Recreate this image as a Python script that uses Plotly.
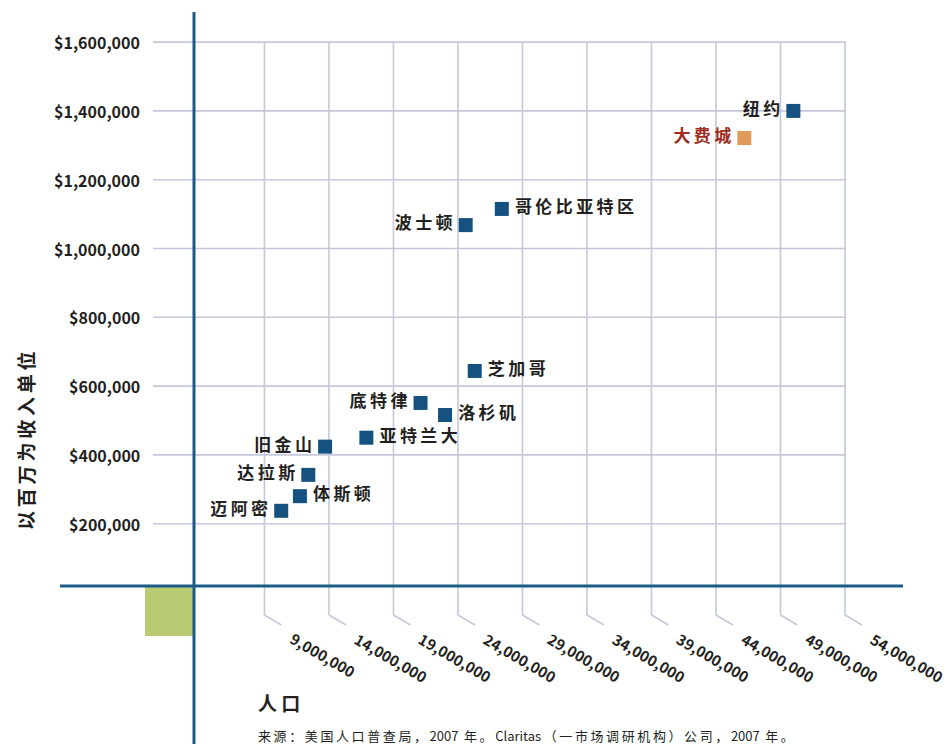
import plotly.graph_objects as go

# ---------------- data ----------------
cities = ["纽约", "大费城", "哥伦比亚特区", "波士顿", "芝加哥", "底特律", "洛杉矶",
          "亚特兰大", "旧金山", "达拉斯", "体斯顿", "迈阿密"]
population = [50.0e6, 46.2e6, 27.4e6, 24.6e6, 25.3e6, 21.1e6, 23.0e6,
              16.9e6, 13.7e6, 12.4e6, 11.75e6, 10.3e6]
income = [1400e3, 1321e3, 1115e3, 1068e3, 644e3, 551e3, 516e3,
          450e3, 424e3, 342e3, 280e3, 237.5e3]
label_side = ["left", "left", "right", "left", "right", "left", "right",
              "right", "left", "left", "right", "left"]
highlight = ["no", "yes", "no", "no", "no", "no", "no", "no", "no", "no", "no", "no"]

x_ticks = [9e6, 14e6, 19e6, 24e6, 29e6, 34e6, 39e6, 44e6, 49e6, 54e6]
x_tick_labels = ["9,000,000", "14,000,000", "19,000,000", "24,000,000", "29,000,000",
                 "34,000,000", "39,000,000", "44,000,000", "49,000,000", "54,000,000"]
y_ticks = [200e3, 400e3, 600e3, 800e3, 1000e3, 1200e3, 1400e3, 1600e3]
y_tick_labels = ["$200,000", "$400,000", "$600,000", "$800,000", "$1,000,000",
                 "$1,200,000", "$1,400,000", "$1,600,000"]

y_title = "以百万为收入单位"
x_title = "人口"
source = "来源：美国人口普查局，2007 年。Claritas（一市场调研机构）公司，2007 年。"

# ---------------- style ----------------
W, H = 947, 744
BLUE = "#15527f"
ORANGE = "#df9a5a"
RED = "#9c2b22"
GRID = "#c4c8da"
AXIS = "#1c5a86"
GREEN = "#b8ca72"
TXT = "#231f20"
CJK = "Noto Sans CJK SC"
SP = "\u2009"

X_RANGE = [-11.50e6, 61.91e6]
Y_RANGE = [-440.4e3, 1722.4e3]


def spaced(s, sp=SP):
    out = ""
    for i, ch in enumerate(s):
        out += ch
        if i < len(s) - 1:
            nxt = s[i + 1]
            if not (ch.isascii() and nxt.isascii()):
                out += sp
    return out


def px(p):
    return p / W


def py(p):
    return 1 - p / H


fig = go.Figure()

shapes = []
# horizontal gridlines
for v in y_ticks:
    shapes.append(dict(type="line", xref="paper", yref="y", x0=px(153), x1=px(846),
                       y0=v, y1=v, line=dict(color=GRID, width=1.6), layer="below"))
# vertical gridlines with slanted tails
dx_tail = 17 / 64.5 * 5e6
for v in x_ticks:
    shapes.append(dict(type="line", xref="x", yref="paper", x0=v, x1=v,
                       y0=py(42), y1=py(615), line=dict(color=GRID, width=1.6), layer="below"))
    shapes.append(dict(type="line", xref="x", yref="paper", x0=v, x1=v + dx_tail,
                       y0=py(615), y1=py(625), line=dict(color=GRID, width=1.6), layer="below"))
# green block
shapes.append(dict(type="rect", xref="paper", yref="paper", x0=px(145), x1=px(193),
                   y0=py(587), y1=py(636), fillcolor=GREEN, line=dict(width=0), layer="below"))
# axis lines
shapes.append(dict(type="line", xref="paper", yref="paper", x0=px(60), x1=px(903),
                   y0=py(586), y1=py(586), line=dict(color=AXIS, width=3)))
shapes.append(dict(type="line", xref="paper", yref="paper", x0=px(194), x1=px(194),
                   y0=py(12), y1=py(744), line=dict(color=AXIS, width=3)))

# markers
colors = [ORANGE if h == "yes" else BLUE for h in highlight]
tcolors = [RED if h == "yes" else TXT for h in highlight]
positions = ["middle " + s for s in label_side]
texts = [(SP + spaced(c)) if s == "right" else (spaced(c) + SP)
         for c, s in zip(cities, label_side)]
fig.add_trace(go.Scatter(
    x=population, y=income, mode="markers+text",
    marker=dict(symbol="square", size=14, color=colors, line=dict(width=0)),
    text=texts, textposition=positions,
    textfont=dict(family=CJK, size=17, color=tcolors, weight="bold"),
    hoverinfo="skip", cliponaxis=False,
))

annotations = []
for v, t in zip(y_ticks, y_tick_labels):
    annotations.append(dict(xref="paper", yref="y", x=px(142), y=v, text=t,
                            xanchor="right", yanchor="middle", showarrow=False,
                            font=dict(family=CJK, size=16, color=TXT, weight="bold")))
for v, t in zip(x_ticks, x_tick_labels):
    annotations.append(dict(xref="x", yref="paper", x=v, xshift=19, y=py(625), text=t,
                            xanchor="left", yanchor="top", textangle=30, showarrow=False,
                            font=dict(family=CJK, size=15, color=TXT, weight="bold")))
annotations.append(dict(xref="paper", yref="paper", x=px(25), y=py(441), text=spaced(y_title),
                        textangle=-90, xanchor="center", yanchor="middle", showarrow=False,
                        font=dict(family=CJK, size=19, color=TXT, weight="bold")))
annotations.append(dict(xref="paper", yref="paper", x=px(256), y=py(702), text=spaced(x_title, " "),
                        xanchor="left", yanchor="middle", showarrow=False,
                        font=dict(family=CJK, size=19, color=TXT, weight="bold")))
annotations.append(dict(xref="paper", yref="paper", x=px(256), y=py(735.5), text=spaced(source),
                        xanchor="left", yanchor="middle", showarrow=False,
                        font=dict(family=CJK, size=13, color=TXT)))

fig.update_layout(
    width=W, height=H, autosize=False,
    margin=dict(l=0, r=0, t=0, b=0, pad=0),
    paper_bgcolor="white", plot_bgcolor="white",
    showlegend=False,
    xaxis=dict(range=X_RANGE, visible=False, fixedrange=True),
    yaxis=dict(range=Y_RANGE, visible=False, fixedrange=True),
    shapes=shapes, annotations=annotations,
)

fig.write_html("out.html", config={"displayModeBar": False},
               post_script="document.body.style.margin='0';document.body.style.overflow='hidden';")
